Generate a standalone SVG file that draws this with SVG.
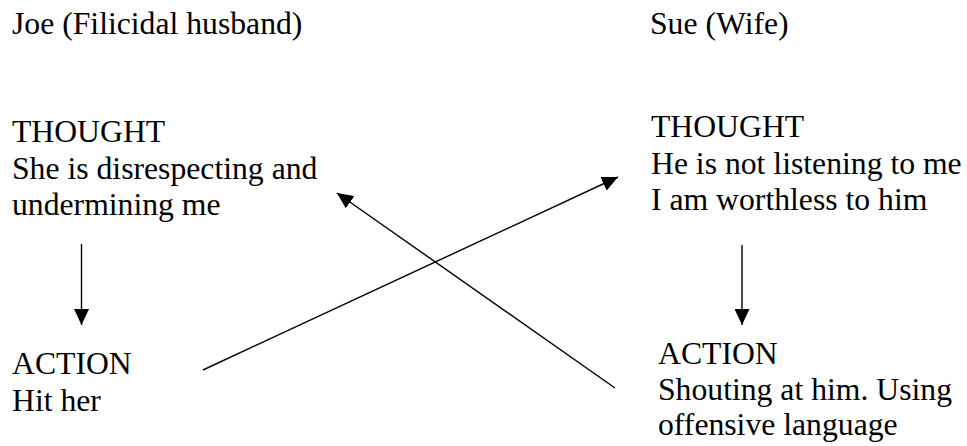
<svg xmlns="http://www.w3.org/2000/svg" width="967" height="446" viewBox="0 0 967 446" font-family="'Liberation Serif', 'Times New Roman', Times, serif">
  <style>
    text { font-family: 'Liberation Serif', 'Times New Roman', Times, serif; font-size: 31.7px; fill: #000; }
    .conn { stroke: #000; stroke-width: 1.4; fill: none; }
  </style>
  <defs>
    <marker id="head" markerUnits="userSpaceOnUse" markerWidth="16" markerHeight="15" refX="16" refY="7.5" orient="auto">
      <path d="M0,0 L16,7.5 L0,15 z" fill="#000"/>
    </marker>
  </defs>
  <rect width="967" height="446" fill="#fff"/>

  <g id="joe-title"><text x="12" y="34">Joe (Filicidal husband)</text></g>
  <g id="sue-title"><text x="650" y="34">Sue (Wife)</text></g>

  <g id="joe-thought">
    <text x="12" y="142">THOUGHT</text>
    <text x="12" y="179">She is disrespecting and</text>
    <text x="12" y="215">undermining me</text>
  </g>
  <g id="sue-thought">
    <text x="651" y="137">THOUGHT</text>
    <text x="651" y="174">He is not listening to me</text>
    <text x="651" y="210">I am worthless to him</text>
  </g>
  <g id="joe-action">
    <text x="12" y="374">ACTION</text>
    <text x="12" y="411">Hit her</text>
  </g>
  <g id="sue-action">
    <text x="658" y="364">ACTION</text>
    <text x="658" y="400">Shouting at him. Using</text>
    <text x="658" y="435">offensive language</text>
  </g>

  <g id="connectors">
    <line class="conn" x1="81.5" y1="244" x2="81.5" y2="325" marker-end="url(#head)"/>
    <line class="conn" x1="742" y1="245" x2="742" y2="325" marker-end="url(#head)"/>
    <line class="conn" x1="203" y1="370" x2="618" y2="177" marker-end="url(#head)"/>
    <line class="conn" x1="615" y1="388" x2="337" y2="193" marker-end="url(#head)"/>
  </g>
</svg>
